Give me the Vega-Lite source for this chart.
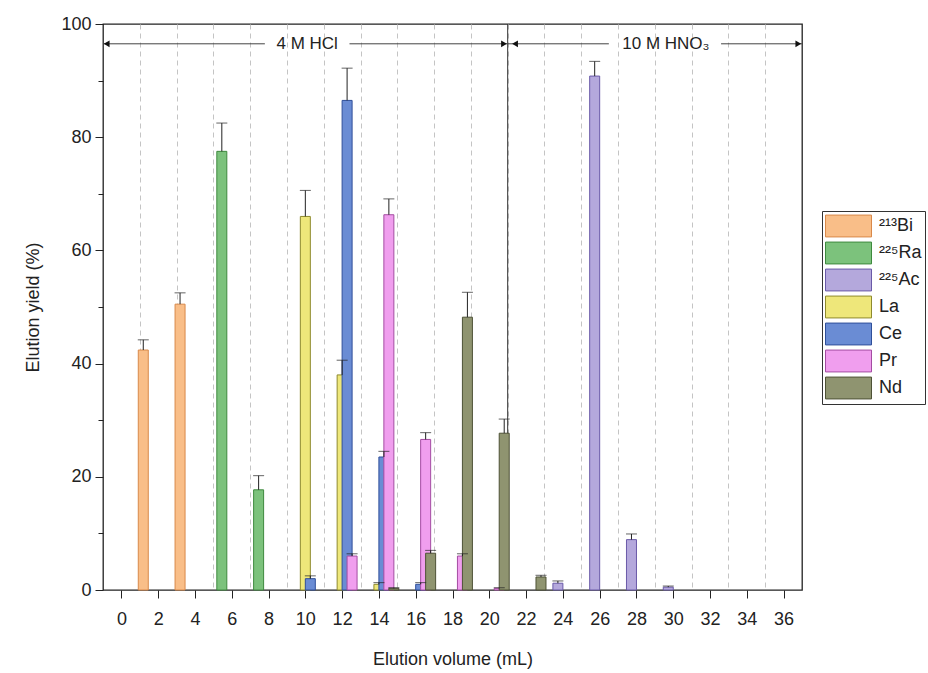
{
  "$schema": "https://vega.github.io/schema/vega-lite/v6.json",
  "width": 699,
  "height": 566,
  "autosize": {"type": "none"},
  "padding": {"left": 103, "top": 24, "right": 126, "bottom": 83},
  "background": "white",
  "config": {
    "font": "Liberation Sans",
    "view": {"stroke": "#222", "strokeWidth": 1.3}
  },
  "datasets": {
    "fractions": [
      {"frac": 2, "series": "²¹³Bi", "y": 42.4, "hi": 44.2},
      {"frac": 4, "series": "²¹³Bi", "y": 50.5, "hi": 52.5},
      {"frac": 6, "series": "²²⁵Ra", "y": 77.5, "hi": 82.5},
      {"frac": 8, "series": "²²⁵Ra", "y": 17.7, "hi": 20.2},
      {"frac": 24, "series": "²²⁵Ac", "y": 1.2, "hi": 1.6},
      {"frac": 26, "series": "²²⁵Ac", "y": 90.8, "hi": 93.4},
      {"frac": 28, "series": "²²⁵Ac", "y": 8.9, "hi": 9.9},
      {"frac": 30, "series": "²²⁵Ac", "y": 0.5, "hi": 0.7},
      {"frac": 10, "series": "La", "y": 66.0, "hi": 70.6},
      {"frac": 12, "series": "La", "y": 38.0, "hi": 40.6},
      {"frac": 14, "series": "La", "y": 1.0, "hi": 1.3},
      {"frac": 10, "series": "Ce", "y": 2.0, "hi": 2.5},
      {"frac": 12, "series": "Ce", "y": 86.5, "hi": 92.2},
      {"frac": 14, "series": "Ce", "y": 23.5, "hi": 24.5},
      {"frac": 16, "series": "Ce", "y": 1.0, "hi": 1.3},
      {"frac": 12, "series": "Pr", "y": 6.0, "hi": 6.4},
      {"frac": 14, "series": "Pr", "y": 66.3, "hi": 69.1},
      {"frac": 16, "series": "Pr", "y": 26.6, "hi": 27.8},
      {"frac": 18, "series": "Pr", "y": 6.0, "hi": 6.4},
      {"frac": 20, "series": "Pr", "y": 0.3, "hi": 0.4},
      {"frac": 14, "series": "Nd", "y": 0.3, "hi": 0.4},
      {"frac": 16, "series": "Nd", "y": 6.5, "hi": 7.0},
      {"frac": 18, "series": "Nd", "y": 48.2, "hi": 52.6},
      {"frac": 20, "series": "Nd", "y": 27.7, "hi": 30.2},
      {"frac": 22, "series": "Nd", "y": 2.3, "hi": 2.6}
    ],
    "divider": [{"x": 21}],
    "segments": [
      {"x": -1, "x2": 7.8},
      {"x": 12.4, "x2": 21},
      {"x": 21, "x2": 26.5},
      {"x": 32.6, "x2": 37}
    ],
    "arrowheads": [
      {"x": -0.8, "dir": "left"},
      {"x": 20.8, "dir": "right"},
      {"x": 21.4, "dir": "left"},
      {"x": 36.8, "dir": "right"}
    ],
    "labels": [
      {"x": 10.1, "label": "4 M HCl"},
      {"x": 29.6, "label": "10 M HNO₃"}
    ]
  },
  "resolve": {"scale": {"x": "independent"}},
  "layer": [
    {
      "data": {"name": "divider"},
      "mark": {"type": "rule", "color": "#333", "strokeWidth": 1},
      "encoding": {
        "x": {
          "field": "x", "type": "quantitative",
          "scale": {"domain": [-1, 37], "nice": false, "zero": false},
          "axis": {
            "orient": "top",
            "values": [1, 3, 5, 7, 9, 11, 13, 15, 17, 19, 21, 23, 25, 27, 29, 31, 33, 35],
            "grid": true, "gridDash": [5, 4], "gridColor": "#c4c4c4", "gridWidth": 1,
            "labels": false, "ticks": false, "domain": false, "title": null
          }
        }
      }
    },
    {
      "data": {"name": "fractions"},
      "layer": [
        {
          "mark": {"type": "bar", "width": 10, "strokeWidth": 1},
          "encoding": {
            "x": {
              "field": "frac", "type": "ordinal",
              "scale": {"domain": [0, 2, 4, 6, 8, 10, 12, 14, 16, 18, 20, 22, 24, 26, 28, 30, 32, 34, 36], "paddingInner": 0, "paddingOuter": 0},
              "axis": null
            },
            "xOffset": {
              "field": "series", "type": "nominal",
              "scale": {"domain": ["²¹³Bi", "²²⁵Ra", "²²⁵Ac", "La", "Ce", "Pr", "Nd"], "paddingInner": 0, "paddingOuter": 0.2}
            },
            "y": {
              "field": "y", "type": "quantitative",
              "scale": {"domain": [0, 100], "nice": false},
              "axis": {
                "title": "Elution yield (%)",
                "values": [0, 10, 20, 30, 40, 50, 60, 70, 80, 90, 100],
                "labelExpr": "datum.value % 20 === 0 ? datum.label : ''",
                "tickSize": {"condition": {"test": "datum.value % 20 === 0", "value": 8}, "value": 5},
                "grid": false, "domain": false,
                "labelFontSize": 18, "titleFontSize": 18, "titleFontWeight": "normal",
                "tickColor": "#222", "labelColor": "#222", "titleColor": "#222",
                "labelPadding": 4, "titlePadding": 18
              }
            },
            "color": {
              "field": "series", "type": "nominal",
              "scale": {
                "domain": ["²¹³Bi", "²²⁵Ra", "²²⁵Ac", "La", "Ce", "Pr", "Nd"],
                "range": ["#F9BE88", "#7CC27C", "#B4A8DC", "#EEE77A", "#6A8CD4", "#F09EEE", "#8F9470"]
              },
              "legend": {
                "orient": "none", "legendX": 719, "legendY": 187,
                "title": null,
                "symbolType": "M-1,-0.95H3V0.95H-1Z",
                "symbolSize": 529,
                "symbolStrokeColor": "#555", "symbolStrokeWidth": 1,
                "symbolOpacity": 1,
                "labelFontSize": 18, "labelColor": "#222", "labelOffset": 30,
                "rowPadding": 1,
                "strokeColor": "#333", "fillColor": "white", "padding": 3
              }
            },
            "stroke": {
              "field": "series", "type": "nominal",
              "scale": {
                "domain": ["²¹³Bi", "²²⁵Ra", "²²⁵Ac", "La", "Ce", "Pr", "Nd"],
                "range": ["#D9894A", "#3E8A3E", "#6A5AA8", "#8E8A2E", "#2F4F9A", "#A44CA2", "#4E5236"]
              },
              "legend": null
            }
          }
        },
        {
          "mark": {"type": "rule", "color": "#222", "strokeWidth": 1},
          "encoding": {
            "x": {"field": "frac", "type": "ordinal"},
            "xOffset": {"field": "series", "type": "nominal"},
            "y": {"field": "y", "type": "quantitative"},
            "y2": {"field": "hi"}
          }
        },
        {
          "mark": {"type": "tick", "color": "#222", "size": 11, "thickness": 1},
          "encoding": {
            "x": {"field": "frac", "type": "ordinal"},
            "xOffset": {"field": "series", "type": "nominal"},
            "y": {"field": "hi", "type": "quantitative"}
          }
        }
      ]
    },
    {
      "encoding": {
        "x": {
          "field": "x", "type": "quantitative",
          "scale": {"domain": [-1, 37], "nice": false, "zero": false},
          "axis": {
            "orient": "bottom",
            "values": [0, 2, 4, 6, 8, 10, 12, 14, 16, 18, 20, 22, 24, 26, 28, 30, 32, 34, 36],
            "title": "Elution volume (mL)",
            "grid": false, "domain": false,
            "labelOverlap": false, "labelBound": false, "labelFlush": false,
            "tickSize": 8, "tickColor": "#222",
            "labelFontSize": 18, "labelColor": "#222", "labelPadding": 12,
            "titleFontSize": 18, "titleFontWeight": "normal", "titleColor": "#222", "titlePadding": 22
          }
        },
        "y": {"datum": 96.5, "type": "quantitative"}
      },
      "layer": [
        {
          "data": {"name": "segments"},
          "mark": {"type": "rule", "color": "#444", "strokeWidth": 1},
          "encoding": {
            "x2": {"field": "x2"}
          }
        },
        {
          "data": {"name": "arrowheads"},
          "mark": {"type": "point", "filled": true, "size": 45, "color": "#111", "opacity": 1},
          "encoding": {
            "shape": {
              "field": "dir", "type": "nominal",
              "scale": {"domain": ["left", "right"], "range": ["triangle-left", "triangle-right"]},
              "legend": null
            }
          }
        },
        {
          "data": {"name": "labels"},
          "mark": {"type": "text", "fontSize": 17, "color": "#222", "baseline": "middle", "align": "center"},
          "encoding": {
            "text": {"field": "label"}
          }
        }
      ]
    }
  ]
}
